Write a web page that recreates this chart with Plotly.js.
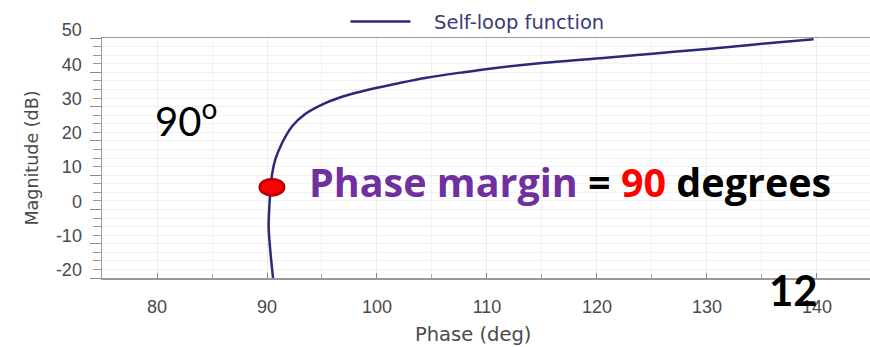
<!DOCTYPE html>
<html>
<head>
<meta charset="utf-8">
<script src="https://cdn.plot.ly/plotly-3.0.1.min.js"></script>
<style>html,body{margin:0;padding:0;background:#fff;}#chart{width:870px;height:347px;}</style>
</head>
<body>
<div id="chart"></div>
<script>
// Curve: Phase (deg) vs Magnitude (dB)
const seriesName = "Self-loop function";
const phaseDeg = [90.55, 90.3, 90.15, 90.2, 90.3, 90.45, 90.75, 91.36, 92.27, 93.5, 95.0, 96.5, 98.2, 100.0, 101.5, 104.5, 107.6, 110.6, 115.0, 120.3, 125.3, 130.3, 135.0, 139.7];
const magnitudeDb = [-20, -12, -5, 0, 5, 10, 14.5, 19.3, 24.2, 27.9, 30.6, 32.5, 34.1, 35.5, 36.5, 38.4, 39.9, 41.2, 42.7, 44.1, 45.5, 46.9, 48.3, 49.6];
// Phase-margin point
const pmPhase = [90.45];
const pmMag = [6.5];
// Axis ticks
const xTicks = [80, 90, 100, 110, 120, 130, 140];
const yTicks = [-20, -10, 0, 10, 20, 30, 40, 50];

const NB = '\u00a0';

const trace = {
  x: phaseDeg, y: magnitudeDb, type: 'scatter', mode: 'lines',
  name: NB + NB + NB + seriesName,
  line: {color: '#2a2a78', width: 2.5, shape: 'spline', smoothing: 1},
  hoverinfo: 'skip'
};

const layout = {
  width: 870, height: 347,
  margin: {l: 102, r: 0, t: 38, b: 69},
  paper_bgcolor: '#ffffff', plot_bgcolor: '#ffffff',
  font: {family: 'Liberation Sans, Arial, sans-serif', color: '#4a4a4a', size: 18},
  showlegend: true,
  legend: {
    orientation: 'h', x: 0.317, xanchor: 'left', y: 1.067, yanchor: 'middle',
    font: {family: 'DejaVu Sans, sans-serif', size: 19.5, color: '#3a3a78'},
    bgcolor: 'rgba(0,0,0,0)', itemwidth: 60
  },
  xaxis: {
    range: [75, 144.82], tickvals: xTicks, ticktext: xTicks.map(String),
    ticks: 'inside', ticklen: 5, tickcolor: '#888',
    showline: true, linecolor: '#999', linewidth: 1.5, mirror: true,
    showgrid: true, gridcolor: '#ececec', gridwidth: 1,
    minor: {dtick: 5, tick0: 0, ticks: 'inside', ticklen: 4, tickcolor: '#aaa', showgrid: true, gridcolor: '#f1f1f1'},
    zeroline: false, ticklabelstandoff: 12,
    tickfont: {size: 18, color: '#4a4a4a'}
  },
  yaxis: {
    range: [-20, 50], tickvals: yTicks, ticktext: yTicks.map(String),
    ticks: 'outside', ticklen: 11, tickcolor: '#888',
    showline: true, linecolor: '#999', linewidth: 1.5,
    showgrid: true, gridcolor: '#eeeeee', gridwidth: 1,
    minor: {dtick: 2.5, tick0: 0, ticks: 'outside', ticklen: 8, tickcolor: '#999', showgrid: true, gridcolor: '#f3f3f3'},
    zeroline: false, ticklabelshift: -8, ticklabelstandoff: 4,
    tickfont: {size: 18, color: '#4a4a4a'},
    title: {text: 'Magnitude (dB)', font: {family: 'DejaVu Sans, sans-serif', size: 17.5, color: '#4a4a4a'}, standoff: 13}
  },
  shapes: [{
    type: 'circle', xref: 'x', yref: 'y', xsizemode: 'pixel', ysizemode: 'pixel',
    xanchor: pmPhase[0], yanchor: pmMag[0],
    x0: -12, x1: 12, y0: -8, y1: 8,
    fillcolor: '#ff0000', line: {color: '#c00000', width: 3}
  }],
  annotations: [
    {xref: 'paper', yref: 'paper', x: 0.483, y: -0.235, xanchor: 'center', yanchor: 'middle',
     text: 'Phase (deg)', showarrow: false,
     font: {family: 'DejaVu Sans, sans-serif', size: 19.5, color: '#4a4a4a'}},
    {xref: 'paper', yref: 'paper', x: 0.067, y: 0.665, xanchor: 'left', yanchor: 'middle',
     text: '90<sup>o</sup>', showarrow: false,
     font: {family: 'Lato, Noto Sans, sans-serif', size: 40, color: '#000'}},
    {xref: 'paper', yref: 'paper', x: 0.267, y: 0.398, xanchor: 'left', yanchor: 'middle',
     text: "<b><span style='color:#7030a0'>Phase margin</span> = <span style='color:#ff0000'>90</span> degrees</b>",
     showarrow: false,
     font: {family: 'Open Sans, sans-serif', size: 39.5, color: '#000'}},
    {xref: 'paper', yref: 'paper', x: 0.901, y: -0.05, xanchor: 'center', yanchor: 'middle',
     text: '<b>12</b>', showarrow: false,
     font: {family: 'Lato, Noto Sans, sans-serif', size: 42, color: '#000'}}
  ]
};

Plotly.newPlot('chart', [trace], layout, {displayModeBar: false, staticPlot: true});
</script>
</body>
</html>
